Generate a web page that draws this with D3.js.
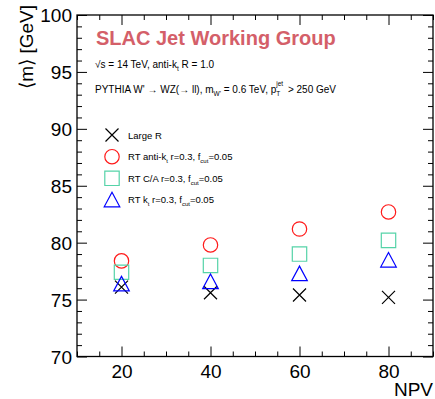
<!DOCTYPE html>
<html>
<head>
<meta charset="utf-8">
<script src="https://cdn.jsdelivr.net/npm/d3@7"></script>
<style>
  body { margin: 0; background: #fff; }
  text { font-family: "Liberation Sans", Arial, sans-serif; fill: #000; }
</style>
</head>
<body>
<svg width="435" height="399"></svg>
<script>
var npv = [20, 40, 60, 80];
var largeR = [76.1, 75.6, 75.4, 75.2];
var rtAntiKt = [78.4, 79.8, 81.2, 82.7];
var rtCA = [77.4, 78.0, 79.0, 80.2];
var rtKt = [76.4, 76.6, 77.3, 78.5];

var xMajor = [20, 40, 60, 80];
var yMajor = [70, 75, 80, 85, 90, 95, 100];

var svg = d3.select("svg"),
    frame = { left: 77, right: 433, top: 15, bottom: 356.5 };

var x = d3.scaleLinear().domain([10, 90]).range([frame.left, frame.right]),
    y = d3.scaleLinear().domain([70, 100]).range([frame.bottom, frame.top]);

var xMinor = d3.range(10, 91, 5).filter(function(v) { return xMajor.indexOf(v) < 0; }),
    yMinor = d3.range(70, 101, 1).filter(function(v) { return yMajor.indexOf(v) < 0; });

// marker shapes, drawn around (0,0)
var shapes = {
  cross: function(r) { return "M" + (-r) + "," + (-r) + "L" + r + "," + r + "M" + (-r) + "," + r + "L" + r + "," + (-r); },
  circle: function(r) { return d3.arc()({ innerRadius: r, outerRadius: r, startAngle: 0, endAngle: 2 * Math.PI }); },
  square: function(r) { return "M" + (-r) + "," + (-r) + "H" + r + "V" + r + "H" + (-r) + "Z"; },
  triangle: function(r) { return "M0," + (-r) + "L" + (r + 0.5) + "," + r + "H" + (-r - 0.5) + "Z"; }
};

var series = [
  { name: "Large R", values: largeR, shape: "cross", r: 6.5, color: "#000" },
  { name: "antikt", values: rtAntiKt, shape: "circle", r: 7.2, color: "#ff1a1a" },
  { name: "ca", values: rtCA, shape: "square", r: 7.2, color: "#55d3a8" },
  { name: "kt", values: rtKt, shape: "triangle", r: 7.3, color: "#0000ff" }
];

// axes: ticks pointing inward on all four sides
function addAxis(axisFn, scale, major, minor, tx, ty, labels) {
  var g = svg.append("g").attr("transform", "translate(" + tx + "," + ty + ")");
  g.append("g").call(axisFn(scale).tickValues(minor).tickSize(-5).tickFormat(""));
  g.append("g").call(axisFn(scale).tickValues(major).tickSize(-10).tickPadding(labels ? 8 : 0)
      .tickFormat(labels ? d3.format("d") : ""));
  g.selectAll(".domain").remove();
  g.selectAll("line").attr("stroke", "#000").attr("stroke-width", 1);
  g.selectAll("text").style("font-size", "19px").attr("fill", "#000")
    .style("font-family", "Liberation Sans, Arial, sans-serif");
  return g;
}

addAxis(d3.axisBottom, x, xMajor, xMinor, 0, frame.bottom, true);
addAxis(d3.axisTop, x, xMajor, xMinor, 0, frame.top, false);
var yAx = addAxis(d3.axisLeft, y, yMajor, yMinor, frame.left, 0, true);
yAx.selectAll("text").attr("x", -5).attr("dy", "0.36em");
addAxis(d3.axisRight, y, yMajor, yMinor, frame.right, 0, false);

svg.append("rect")
    .attr("x", frame.left).attr("y", frame.top)
    .attr("width", frame.right - frame.left).attr("height", frame.bottom - frame.top)
    .attr("fill", "none").attr("stroke", "#000").attr("stroke-width", 1.3);

// axis titles
svg.append("text")
    .attr("x", frame.right).attr("y", 395.5)
    .attr("text-anchor", "end")
    .style("font-size", "19px")
    .text("NPV");

svg.append("text")
    .attr("transform", "translate(33,5) rotate(-90)")
    .attr("text-anchor", "end")
    .style("font-size", "19px")
    .text("\u27E8m\u27E9 [GeV]");

// header texts
svg.append("text")
    .attr("x", 96).attr("y", 45)
    .style("font-size", "20px").style("font-weight", "bold")
    .style("fill", "#d45f69")
    .text("SLAC Jet Working Group");

var t1 = svg.append("text").attr("x", 95).attr("y", 68).style("font-size", "10px");
t1.append("tspan").text("\u221As = 14 TeV, anti-k");
t1.append("tspan").attr("dy", 3).style("font-size", "6.5px").text("t");
t1.append("tspan").attr("dy", -3).text(" R = 1.0");

var t2 = svg.append("text").attr("x", 95).attr("y", 93).style("font-size", "10px");
t2.append("tspan").text("PYTHIA W' \u2192 WZ(\u2192 ll), m");
t2.append("tspan").attr("dy", 3).style("font-size", "6.5px").text("W'");
t2.append("tspan").attr("dy", -3).text(" = 0.6 TeV, p");
t2.append("tspan").attr("dy", 3).style("font-size", "6.5px").text("T");
t2.append("tspan").attr("dx", -4).attr("dy", -10).style("font-size", "6.5px").text("jet");
t2.append("tspan").attr("dx", 2).attr("dy", 7).text("  > 250 GeV");

// data markers
series.forEach(function(s) {
  svg.append("g").selectAll("path")
    .data(s.values)
    .join("path")
      .attr("transform", function(d, i) { return "translate(" + x(npv[i]) + "," + y(d) + ")"; })
      .attr("d", shapes[s.shape](s.r))
      .attr("fill", "none")
      .attr("stroke", s.color)
      .attr("stroke-width", 1.2);
});

// legend
var legendRows = [
  { parts: [["Large R", 0]] },
  { parts: [["RT anti-k", 0], ["t", 1], [" r=0.3, f", 0], ["cut", 1], ["=0.05", 0]] },
  { parts: [["RT C/A r=0.3, f", 0], ["cut", 1], ["=0.05", 0]] },
  { parts: [["RT k", 0], ["t", 1], [" r=0.3, f", 0], ["cut", 1], ["=0.05", 0]] }
];
var legendY = [135, 156.7, 178.3, 199.5];

legendRows.forEach(function(row, k) {
  var s = series[k];
  svg.append("path")
      .attr("transform", "translate(112," + legendY[k] + ")")
      .attr("d", shapes[s.shape](s.r))
      .attr("fill", "none").attr("stroke", s.color).attr("stroke-width", 1.2);
  var t = svg.append("text").attr("x", 128).attr("y", legendY[k] + 3.5).style("font-size", "9.5px");
  var prevSub = 0;
  row.parts.forEach(function(p) {
    var shift = (p[1] - prevSub) * 3;
    t.append("tspan").attr("dy", shift).style("font-size", p[1] ? "6px" : "9.5px").text(p[0]);
    prevSub = p[1];
  });
});
</script>
</body>
</html>
